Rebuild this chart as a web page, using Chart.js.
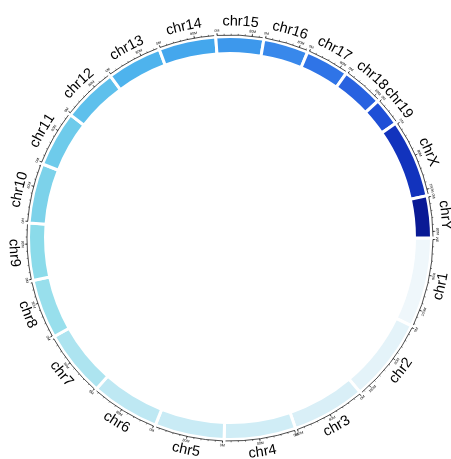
<!DOCTYPE html>
<html>
<head>
<meta charset="utf-8">
<script src="https://cdn.jsdelivr.net/npm/chart.js@4/dist/chart.umd.min.js"></script>
<style>
  html, body { margin: 0; padding: 0; background: #ffffff; }
  #wrap { width: 451px; height: 459px; }
</style>
</head>
<body>
<div id="wrap"><canvas id="ideo" width="451" height="459"></canvas></div>
<script>
// Mouse chromosomes (mm10), lengths in Mb
const chromosomes = ['chr1','chr2','chr3','chr4','chr5','chr6','chr7','chr8','chr9','chr10',
  'chr11','chr12','chr13','chr14','chr15','chr16','chr17','chr18','chr19','chrX','chrY'];
const chromLengthsMb = [195.5, 182.1, 160.0, 156.5, 151.8, 149.7, 145.4, 129.4, 124.6, 130.7,
  122.1, 120.1, 120.4, 124.9, 104.0, 98.2, 95.0, 90.7, 61.4, 171.0, 91.7];
const chromColors = ['#eff7fb','#e4f3f9','#d9eff7','#d0edf6','#c9ebf5','#bee8f3','#ade4f0',
  '#98dfec','#8bdbea','#7cd2ea','#6ecbeb','#5ec0ec','#4eb3ed','#44a7ed','#3d98ec','#3888eb',
  '#2f74e7','#2862e0','#1e4fd6','#1233bd','#0a1a95'];
// axis ticks (Mb)
const majorTickMb = [0, 80, 160];
const majorTickLabels = ['0M', '80M', '160M'];
const minorTickStepMb = 16;

const AXIS_R = 203;
const LABEL_R = 207.6;
const NAME_R = 216.5;
const GAP = 3;          // white border between sectors
const RING_R = 201.5;   // arc radius before the border is stroked

function norm(a) {
  const t = Math.PI * 2;
  return ((a % t) + t) % t;
}

// text bent along a circle; on the lower half it is flipped to stay readable
function drawArcText(ctx, text, cx, cy, r, mid, font) {
  ctx.save();
  ctx.font = font;
  ctx.textAlign = 'center';
  ctx.textBaseline = 'middle';
  const flip = norm(mid) > 0 && norm(mid) < Math.PI;
  const total = ctx.measureText(text).width;
  let acc = 0;
  for (const ch of text) {
    const w = ctx.measureText(ch).width;
    const off = (acc + w / 2 - total / 2) / r;
    const a = flip ? mid - off : mid + off;
    ctx.save();
    ctx.translate(cx + r * Math.cos(a), cy + r * Math.sin(a));
    ctx.rotate(flip ? a - Math.PI / 2 : a + Math.PI / 2);
    ctx.fillText(ch, 0, 0);
    ctx.restore();
    acc += w;
  }
  ctx.restore();
}

const ideogramAxes = {
  id: 'ideogramAxes',
  afterDatasetsDraw(chart) {
    const ctx = chart.ctx;
    const meta = chart.getDatasetMeta(0);
    ctx.save();
    ctx.strokeStyle = '#000000';
    ctx.fillStyle = '#000000';
    meta.data.forEach((arc, i) => {
      const cx = arc.x, cy = arc.y;
      const inset = (GAP / 2) / AXIS_R;
      const a0 = arc.startAngle + inset;
      const a1 = arc.endAngle - inset;
      const len = chromLengthsMb[i];
      const posToAngle = (p) => a0 + (p / len) * (a1 - a0);

      // axis line
      ctx.lineWidth = 0.7;
      ctx.beginPath();
      ctx.arc(cx, cy, AXIS_R, a0, a1);
      ctx.stroke();

      // minor ticks
      ctx.lineWidth = 0.5;
      for (let p = 0; p <= len; p += minorTickStepMb) {
        const a = posToAngle(p);
        ctx.beginPath();
        ctx.moveTo(cx + AXIS_R * Math.cos(a), cy + AXIS_R * Math.sin(a));
        ctx.lineTo(cx + (AXIS_R + 1.3) * Math.cos(a), cy + (AXIS_R + 1.3) * Math.sin(a));
        ctx.stroke();
      }
      // major ticks with labels
      majorTickMb.forEach((p, k) => {
        if (p > len) return;
        const a = posToAngle(p);
        ctx.lineWidth = 0.6;
        ctx.beginPath();
        ctx.moveTo(cx + AXIS_R * Math.cos(a), cy + AXIS_R * Math.sin(a));
        ctx.lineTo(cx + (AXIS_R + 2.4) * Math.cos(a), cy + (AXIS_R + 2.4) * Math.sin(a));
        ctx.stroke();
        drawArcText(ctx, majorTickLabels[k], cx, cy, LABEL_R, a, '3.6px "Liberation Sans", Arial, sans-serif');
      });

      // chromosome name
      const mid = (arc.startAngle + arc.endAngle) / 2;
      drawArcText(ctx, chromosomes[i], cx, cy, NAME_R, mid, '14.5px "Liberation Sans", Arial, sans-serif');
    });
    ctx.restore();
  }
};

// chart area sized so the ring sits around (230, 238)
const side = RING_R * 2 + GAP;
const padLeft = 230 - side / 2;
const padTop = 238 - side / 2;

new Chart(document.getElementById('ideo'), {
  type: 'doughnut',
  data: {
    labels: chromosomes,
    datasets: [{
      data: chromLengthsMb,
      backgroundColor: chromColors,
      borderColor: '#ffffff',
      borderWidth: GAP,
      borderAlign: 'center',
      borderJoinStyle: 'miter'
    }]
  },
  options: {
    responsive: false,
    animation: false,
    rotation: 90,
    cutout: (184.5 / RING_R * 100).toFixed(2) + '%',
    layout: { padding: { left: padLeft, right: 451 - padLeft - side, top: padTop, bottom: 459 - padTop - side } },
    plugins: { legend: { display: false }, tooltip: { enabled: false } },
    events: []
  },
  plugins: [ideogramAxes]
});
</script>
</body>
</html>
